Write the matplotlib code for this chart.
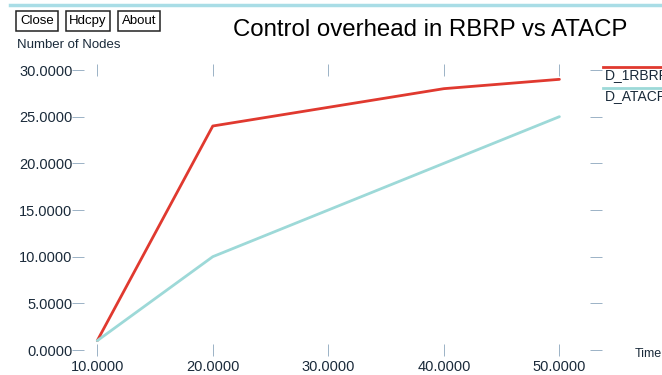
import matplotlib
matplotlib.use('Agg')
import matplotlib.pyplot as plt
from matplotlib.lines import Line2D

# data
time = [10, 20, 30, 40, 50]
rbrp_nodes = [1.0, 24.0, 26.0, 28.0, 29.0]
atacp_nodes = [1.0, 10.0, 15.0, 20.0, 25.0]
x_ticks = [10, 20, 30, 40, 50]
y_ticks = [0, 5, 10, 15, 20, 25, 30]
series_names = ['D_1RBRP', 'D_ATACP']

red = '#e0392f'
cyan = '#9dd9d8'
tick_col = '#9bb2c6'

plt.rcParams['font.family'] = ['Liberation Sans', 'DejaVu Sans']

fig = plt.figure(figsize=(6.62, 3.75), dpi=100)
ax = fig.add_axes([78 / 662, 1 - 350 / 375, (596 - 78) / 662, (350 - 70) / 375])

ax.plot(time, rbrp_nodes, color=red, lw=2.0, solid_capstyle='round')
ax.plot(time, atacp_nodes, color=cyan, lw=2.0, solid_capstyle='round')

ax.set_xlim(10 - 20 / 12, 10 + 518 / 12)
ax.set_ylim(0, 30)
for s in ax.spines.values():
    s.set_visible(False)

ax.set_xticks(x_ticks)
ax.set_xticklabels(['%.4f' % v for v in x_ticks])
ax.set_yticks(y_ticks)
ax.set_yticklabels(['%.4f' % v for v in y_ticks])
ax.tick_params(axis='x', direction='inout', length=8, width=0.7, color=tick_col,
               top=True, bottom=True, labelsize=10.5, pad=3, labelcolor='#1a2a3a')
ax.tick_params(axis='y', direction='inout', length=8, width=0.7, color=tick_col,
               left=True, right=True, labelsize=10.5, pad=0, labelcolor='#1a2a3a')

# window decoration
fig.add_artist(Line2D([10 / 662, 1], [1 - 5 / 375, 1 - 5 / 375], color='#a9dde6', lw=2.5))
for label, xc in [('Close', 37), ('Hdcpy', 88), ('About', 139)]:
    fig.text(xc / 662, 1 - 21 / 375, label, ha='center', va='center', fontsize=9.5,
             bbox=dict(boxstyle='square,pad=0.28', fc='white', ec='#222222', lw=1.1))

fig.text(430 / 662, 1 - 30 / 375, 'Control overhead in RBRP vs ATACP', ha='center',
         va='center', fontsize=17.3)
fig.text(17 / 662, 1 - 45 / 375, 'Number of Nodes', ha='left', va='center', fontsize=9.5,
         color='#1a2a3a')
fig.text(635 / 662, 1 - 354 / 375, 'Time', ha='left', va='center', fontsize=9,
         color='#1a2a3a')

# legend, xgraph style (line above the name, cut off by the window edge)
for i, (name, col) in enumerate(zip(series_names, [red, cyan])):
    yl = 67 + 21 * i
    fig.add_artist(Line2D([603 / 662, 1], [1 - yl / 375, 1 - yl / 375], color=col, lw=2.0))
    fig.text(605 / 662, 1 - (yl + 8) / 375, name, ha='left', va='center', fontsize=10,
             color='#1a2a3a')

fig.savefig('out.png', dpi=100)
